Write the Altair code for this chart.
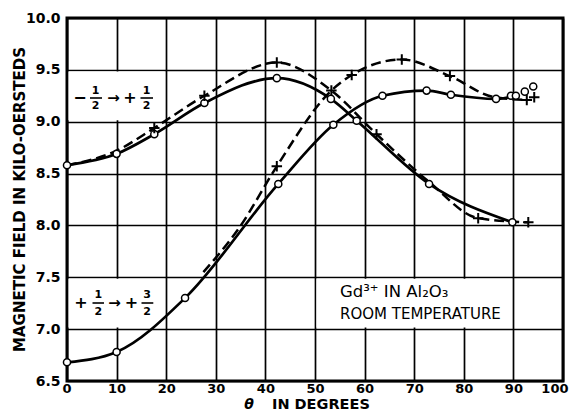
import altair as alt
import pandas as pd

# ---------------- data ----------------
x_ticks = [0, 10, 20, 30, 40, 50, 60, 70, 80, 90, 100]
y_ticks = [6.5, 7.0, 7.5, 8.0, 8.5, 9.0, 9.5, 10.0]

# transition -1/2 -> +1/2 : open circles (solid curve)
a_circ_theta = [0, 10, 17.6, 27.7, 42.3, 53.2, 58.4, 73.0, 89.8]
a_circ_field = [8.58, 8.69, 8.88, 9.18, 9.42, 9.22, 9.01, 8.40, 8.03]
# transition -1/2 -> +1/2 : crosses (dashed curve)
a_cross_theta = [17.6, 27.7, 42.3, 53.3, 62.4, 82.9, 93.0]
a_cross_field = [8.94, 9.25, 9.57, 9.30, 8.88, 8.07, 8.03]
a_dash_theta = [0, 10, 17.6, 27.7, 42.3, 53.3, 62.4, 73.0, 82.9, 93.0]
a_dash_field = [8.58, 8.72, 8.94, 9.25, 9.57, 9.30, 8.88, 8.42, 8.07, 8.03]

# transition +1/2 -> +3/2 : open circles (solid curve)
b_circ_theta = [0, 10, 23.8, 42.6, 53.7, 63.6, 72.5, 77.4, 86.5, 89.5, 90.5, 92.3, 94.0]
b_circ_field = [6.68, 6.78, 7.30, 8.40, 8.97, 9.25, 9.30, 9.26, 9.22, 9.25, 9.25, 9.29, 9.34]
b_line_theta = [0, 10, 23.8, 42.6, 53.7, 63.6, 72.5, 77.4, 86.5, 90.5]
b_line_field = [6.68, 6.78, 7.30, 8.40, 8.97, 9.25, 9.30, 9.26, 9.22, 9.25]
# transition +1/2 -> +3/2 : crosses (dashed curve)
b_cross_theta = [42.3, 57.4, 67.5, 77.2, 92.7, 94.2]
b_cross_field = [8.57, 9.45, 9.60, 9.44, 9.21, 9.235]
b_dash_theta = [27.5, 34.9, 42.3, 53.3, 57.4, 67.5, 77.2, 85.9, 92.7]
b_dash_field = [7.55, 7.99, 8.57, 9.30, 9.45, 9.60, 9.44, 9.24, 9.21]

# white label boxes (grid cells hidden behind the labels)
box_x1 = [0.3, 0.3, 50.3]
box_x2 = [19.7, 19.7, 89.7]
box_y1 = [9.015, 7.015, 7.015]
box_y2 = [9.485, 7.485, 7.485]

FONT = "DejaVu Sans"


def df(t, f):
    return pd.DataFrame({"theta": t, "field": f})


xscale = alt.Scale(domain=[0, 100], nice=False, zero=False)
yscale = alt.Scale(domain=[6.5, 10], nice=False, zero=False)
xaxis = alt.Axis(values=x_ticks, title=None, grid=True, ticks=False, domain=False,
                 labelPadding=1, labelFont=FONT, labelFontSize=13, labelFontWeight="bold",
                 labelColor="black", gridColor="black", gridWidth=1.7, gridOpacity=1,
                 labelFlush=True, labelFlushOffset=5)
yaxis = alt.Axis(values=y_ticks, format=".1f", title=None, grid=True, ticks=False, domain=False,
                 labelPadding=7, labelFont=FONT, labelFontSize=14, labelFontWeight="bold",
                 labelColor="black", gridColor="black", gridWidth=1.7, gridOpacity=1)


def X(f):
    return alt.X(f, type="quantitative", scale=xscale, axis=xaxis)


def Y(f):
    return alt.Y(f, type="quantitative", scale=yscale, axis=yaxis)


boxes = alt.Chart(pd.DataFrame({"x1": box_x1, "x2": box_x2, "y1": box_y1, "y2": box_y2})).mark_rect(
    color="white", opacity=1
).encode(x=X("x1"), x2="x2", y=Y("y1"), y2="y2")

solid_style = dict(color="black", strokeWidth=2.7, interpolate="monotone")
dash_style = dict(color="black", strokeWidth=2.5, interpolate="monotone", strokeDash=[10, 5])

a_solid = alt.Chart(df(a_circ_theta, a_circ_field)).mark_line(**solid_style).encode(x=X("theta"), y=Y("field"))
a_dash = alt.Chart(df(a_dash_theta, a_dash_field)).mark_line(**dash_style).encode(x=X("theta"), y=Y("field"))
b_solid = alt.Chart(df(b_line_theta, b_line_field)).mark_line(**solid_style).encode(x=X("theta"), y=Y("field"))
b_dash = alt.Chart(df(b_dash_theta, b_dash_field)).mark_line(**dash_style).encode(x=X("theta"), y=Y("field"))

circ_style = dict(shape="circle", filled=True, fill="white", stroke="black", strokeWidth=1.5, size=50, opacity=1)
cross_style = dict(shape="M-1,0H1M0,-1V1", filled=False, stroke="black", strokeWidth=2, size=110, opacity=1)

a_c = alt.Chart(df(a_circ_theta, a_circ_field)).mark_point(**circ_style).encode(x=X("theta"), y=Y("field"))
b_c = alt.Chart(df(b_circ_theta, b_circ_field)).mark_point(**circ_style).encode(x=X("theta"), y=Y("field"))
a_x = alt.Chart(df(a_cross_theta, a_cross_field)).mark_point(**cross_style).encode(x=X("theta"), y=Y("field"))
b_x = alt.Chart(df(b_cross_theta, b_cross_field)).mark_point(**cross_style).encode(x=X("theta"), y=Y("field"))

# ---------------- annotation text (pixel positions inside the plot) ----------------
one = pd.DataFrame({"a": [0]})


def txt(text, x, y, size=15, weight="bold", align="center", baseline="middle", style="normal", angle=0):
    return alt.Chart(one).mark_text(
        text=text, font=FONT, fontSize=size, fontWeight=weight, align=align, baseline=baseline,
        fontStyle=style, color="black", angle=angle
    ).encode(x=alt.value(x), y=alt.value(y))


def bar(x1, x2, y):
    return alt.Chart(one).mark_rule(color="black", strokeWidth=1.6).encode(
        x=alt.value(x1), x2=alt.value(x2), y=alt.value(y))


ann = [
    # -1/2 -> +1/2
    txt("−", 13, 79.7, size=16),
    txt("1", 28.5, 73.2, size=11), txt("2", 28.5, 87.7, size=11), bar(23, 35, 80),
    txt("→", 46.5, 79.7, size=15),
    txt("+", 63, 79.7, size=16),
    txt("1", 79.5, 73.2, size=11), txt("2", 79.5, 87.7, size=11), bar(73.5, 86, 80),
    # +1/2 -> +3/2
    txt("+", 14, 284.7, size=16),
    txt("1", 31.3, 276.5, size=11), txt("2", 31.3, 293.5, size=11), bar(25.5, 37, 285),
    txt("→", 47.5, 284.7, size=15),
    txt("+", 64.5, 284.7, size=16),
    txt("3", 80, 276.5, size=11), txt("2", 80, 293.5, size=11), bar(74.5, 86.3, 285),
    # sample label
    txt("Gd³⁺ IN Al₂O₃", 273, 279, size=16.5, weight="normal", align="left", baseline="alphabetic"),
    txt("ROOM TEMPERATURE", 273, 300.5, size=15, weight="normal", align="left", baseline="alphabetic"),
    # axis titles
    txt("θ", 182, 393.5, size=14, style="italic", baseline="bottom"),
    txt("IN DEGREES", 205, 393.5, size=14.5, align="left", baseline="bottom"),
    txt("MAGNETIC FIELD IN KILO-OERSTEDS", -47, 181.5, size=15, angle=270),
]

chart = alt.layer(
    boxes, a_dash, b_dash, a_solid, b_solid, a_c, b_c, a_x, b_x, *ann
).properties(
    width=496, height=363,
    autosize=alt.AutoSizeParams(type="none"),
    padding={"left": 59, "top": 10, "right": 6, "bottom": 31},
    background="white",
).configure_view(stroke="black", strokeWidth=3)

chart.save("out.html", embed_options={"renderer": "svg", "actions": False})
